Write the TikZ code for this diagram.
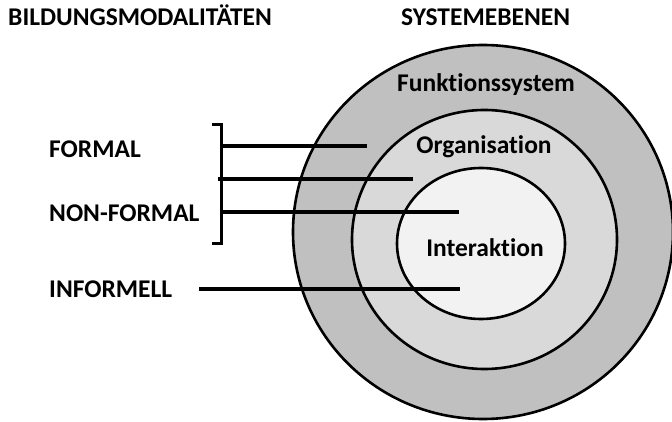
\documentclass[tikz,border=0pt]{standalone}
\usepackage{fontspec}
\setmainfont{Carlito}[Ligatures=NoCommon]
\begin{document}
\begin{tikzpicture}[x=1pt,y=-1pt,
  lbl/.style={font=\bfseries\fontsize{25.5}{30}\selectfont, inner sep=0pt},
  ring/.style={draw=black, line width=2.6pt},
  conn/.style={line width=3.5pt},
  brk/.style={line width=3pt}]
\useasboundingbox (0,0) rectangle (672,422);
% rings
\path[ring, fill={rgb,255:red,192;green,192;blue,192}] (483,232) ellipse [x radius=190, y radius=187];
\path[ring, fill={rgb,255:red,217;green,217;blue,217}] (484.5,239.5) ellipse [x radius=132.5, y radius=129.5];
\path[ring, fill={rgb,255:red,242;green,242;blue,242}] (481,243.5) ellipse [x radius=84, y radius=75.5];
% headings
\node[lbl, anchor=base west] (bm) at (8,26) {BILDUNGSMODALITÄTEN};
\node[lbl, anchor=base west] (se) at (401,26) {SYSTEMEBENEN};
% system levels
\node[lbl, anchor=base] (fs) at (486,92) {Funktionssystem};
\node[lbl, anchor=base] (org) at (484,154) {Organisation};
\node[lbl, anchor=base] (ia) at (485,256) {Interaktion};
% modalities
\node[lbl, anchor=base west] (formal) at (49,158) {FORMAL};
\node[lbl, anchor=base west] (nonformal) at (49,222) {NON-FORMAL};
\node[lbl, anchor=base west] (informell) at (49,297) {INFORMELL};
% bracket
\coordinate (bt) at (212,125);
\coordinate (bb) at (212,244);
\draw[brk, line join=miter] (bt) -- (221,125) -- (221,244) -- (bb);
% connector ends
\coordinate (f0) at (221,146);  \coordinate (f1) at (367,146);
\coordinate (g0) at (218,179);  \coordinate (g1) at (413,179);
\coordinate (n0) at (221,212);  \coordinate (n1) at (459,212);
\coordinate (i0) at (199,289);  \coordinate (i1) at (460,289);
\draw[conn] (f0) -- (f1);
\draw[conn] (g0) -- (g1);
\draw[conn] (n0) -- (n1);
\draw[conn] (i0) -- (i1);
\end{tikzpicture}
\end{document}
